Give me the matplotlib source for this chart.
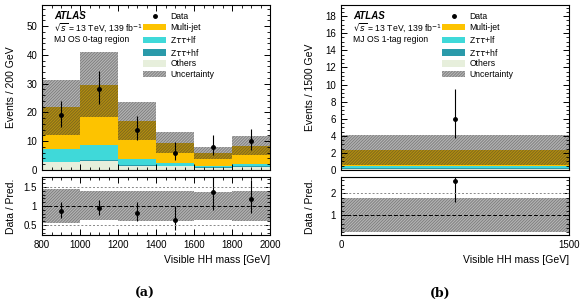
import numpy as np
import matplotlib.pyplot as plt
from matplotlib.patches import Patch
from matplotlib.lines import Line2D

plt.rcParams['font.family'] = ['Liberation Sans', 'DejaVu Sans']
plt.rcParams['hatch.linewidth'] = 0.36

# (a) MJ OS 0-tag region, 200 GeV bins
EDGES_A = [800, 1000, 1200, 1400, 1600, 1800, 2000]
OTHERS_A = [2.7, 3.2, 1.5, 1.4, 0.8, 1.2]
ZHF_A = [0.15, 0.2, 0.15, 0.1, 0.1, 0.1]
ZLF_A = [4.35, 5.3, 2.05, 0.8, 0.6, 0.7]
MJ_A = [14.6, 20.9, 13.2, 7.2, 4.3, 6.5]
UNC_A = [9.6, 11.25, 6.6, 3.75, 2.1, 3.3]
DATA_A = [19, 28, 14, 6, 8, 10]
DATA_ERR_LO_A = [4.0, 5.0, 3.7, 2.4, 2.8, 3.1]
DATA_ERR_HI_A = [5.0, 6.5, 4.8, 3.6, 4.0, 4.3]

# (b) MJ OS 1-tag region, single 1500 GeV bin
EDGES_B = [0, 1500]
OTHERS_B = [0.08]
ZHF_B = [0.1]
ZLF_B = [0.32]
MJ_B = [1.82]
UNC_B = [1.78]
DATA_B = [6]
DATA_ERR_LO_B = [2.3]
DATA_ERR_HI_B = [3.5]

C_MJ = '#fdc300'
C_ZLF = '#3fd9d9'
C_ZHF = '#2a9aaa'
C_OTH = '#e7efdc'
HATCH_C = '#2e2e2e'
HATCH = '/' * 22


def style(ax):
    ax.tick_params(which='both', direction='in', top=True, right=True, labelsize=7)
    ax.tick_params(which='major', length=4, width=0.7)
    ax.tick_params(which='minor', length=2, width=0.6)
    for s in ax.spines.values():
        s.set_linewidth(0.8)


def draw(ax, rax, edges, others, zhf, zlf, mj, unc, data, elo, ehi):
    edges = np.array(edges, float)
    left = edges[:-1]
    w = np.diff(edges)
    centres = left + w / 2
    bottom = np.zeros(len(left))
    for vals, col in [(others, C_OTH), (zhf, C_ZHF), (zlf, C_ZLF), (mj, C_MJ)]:
        ax.bar(left, vals, width=w, bottom=bottom, align='edge', color=col, lw=0)
        bottom = bottom + np.array(vals)
    total = bottom
    unc = np.array(unc)
    ax.bar(left, 2 * unc, width=w, bottom=total - unc, align='edge', fill=False,
           hatch=HATCH, edgecolor=HATCH_C, lw=0)
    ax.errorbar(centres, data, yerr=[elo, ehi], fmt='o', color='k', ms=2.5,
                elinewidth=0.8, capsize=0)
    # ratio
    rel = unc / total
    rax.bar(left, 2 * rel, width=w, bottom=1 - rel, align='edge', fill=False,
            hatch=HATCH, edgecolor=HATCH_C, lw=0)
    rax.errorbar(centres, np.array(data) / total,
                 yerr=[np.array(elo) / total, np.array(ehi) / total],
                 fmt='o', color='k', ms=2.5, elinewidth=0.8, capsize=0)
    ax.set_xlim(edges[0], edges[-1])
    rax.set_xlim(edges[0], edges[-1])


def decorate(ax, region):
    ax.text(0.053, 0.935, 'ATLAS', transform=ax.transAxes, fontsize=7,
            fontweight='bold', style='italic', va='center')
    ax.text(0.053, 0.862, r'$\sqrt{s}$ = 13 TeV, 139 fb$^{-1}$', transform=ax.transAxes,
            fontsize=6.2, va='center')
    ax.text(0.053, 0.79, region, transform=ax.transAxes, fontsize=6.2, va='center')
    handles = [
        Line2D([], [], marker='o', color='k', ls='none', ms=2.5),
        Patch(facecolor=C_MJ, lw=0),
        Patch(facecolor=C_ZLF, lw=0),
        Patch(facecolor=C_ZHF, lw=0),
        Patch(facecolor=C_OTH, lw=0),
        Patch(facecolor='white', hatch=HATCH, edgecolor=HATCH_C, lw=0),
    ]
    labels = ['Data', 'Multi-jet', r'Z$\tau\tau$+lf', r'Z$\tau\tau$+hf', 'Others', 'Uncertainty']
    ax.legend(handles, labels, loc='upper left', bbox_to_anchor=(0.445, 0.955),
              frameon=False, fontsize=6.2, handlelength=2.6, handleheight=0.8,
              labelspacing=0.2, handletextpad=0.5, borderaxespad=0, borderpad=0)


fig = plt.figure(figsize=(5.82, 3.0), dpi=100)
axA = fig.add_axes([0.0722, 0.4333, 0.3918, 0.55])
rA = fig.add_axes([0.0722, 0.2167, 0.3918, 0.1933])
axB = fig.add_axes([0.5859, 0.4333, 0.3918, 0.55])
rB = fig.add_axes([0.5859, 0.2167, 0.3918, 0.1933])

draw(axA, rA, EDGES_A, OTHERS_A, ZHF_A, ZLF_A, MJ_A, UNC_A, DATA_A, DATA_ERR_LO_A, DATA_ERR_HI_A)
draw(axB, rB, EDGES_B, OTHERS_B, ZHF_B, ZLF_B, MJ_B, UNC_B, DATA_B, DATA_ERR_LO_B, DATA_ERR_HI_B)

decorate(axA, 'MJ OS 0-tag region')
decorate(axB, 'MJ OS 1-tag region')

# panel (a) axes
axA.set_ylim(0, 57.3)
axA.set_yticks([0, 10, 20, 30, 40, 50])
axA.set_yticks(np.arange(0, 57, 2), minor=True)
axA.set_xticks(EDGES_A)
axA.set_xticks(np.arange(800, 2001, 50), minor=True)
axA.tick_params(labelbottom=False)
rA.set_ylim(0.24, 1.76)
rA.set_yticks([0.5, 1, 1.5])
rA.set_yticklabels(['0.5', '1', '1.5'])
rA.set_yticks(np.arange(0.3, 1.76, 0.1), minor=True)
rA.set_xticks(EDGES_A)
rA.set_xticks(np.arange(800, 2001, 50), minor=True)
rA.axhline(1, color='k', lw=0.7, ls='--', dashes=(4, 2))
for yv in (0.5, 1.5):
    rA.axhline(yv, color='#888888', lw=0.7, ls='--', dashes=(2, 2))

# panel (b) axes
axB.set_ylim(0, 19.3)
axB.set_yticks(np.arange(0, 19, 2))
axB.set_yticks(np.arange(0, 19.3, 0.5), minor=True)
axB.set_xticks([0, 1500])
axB.tick_params(labelbottom=False)
rB.set_ylim(0.08, 2.75)
rB.set_yticks([1, 2])
rB.set_yticks(np.arange(0.2, 2.75, 0.2), minor=True)
rB.set_xticks([0, 1500])
rB.axhline(1, color='k', lw=0.7, ls='--', dashes=(4, 2))
rB.axhline(2, color='#888888', lw=0.7, ls='--', dashes=(2, 2))

for ax in (axA, rA, axB, rB):
    style(ax)

axA.set_ylabel('Events / 200 GeV', fontsize=7.5)
axB.set_ylabel('Events / 1500 GeV', fontsize=7.5)
rA.set_ylabel('Data / Pred.', fontsize=7.5)
rB.set_ylabel('Data / Pred.', fontsize=7.5)
for ax in (axA, rA, axB, rB):
    ax.yaxis.set_label_coords(-0.115, 0.5)
for r in (rA, rB):
    r.set_xlabel('Visible HH mass [GeV]', fontsize=7.5, loc='right')

fig.text(0.249, 0.01, '(a)', fontsize=9, fontweight='bold', family='DejaVu Serif', ha='center')
fig.text(0.757, 0.01, '(b)', fontsize=9, fontweight='bold', family='DejaVu Serif', ha='center')

fig.savefig('out.png', dpi=100)
